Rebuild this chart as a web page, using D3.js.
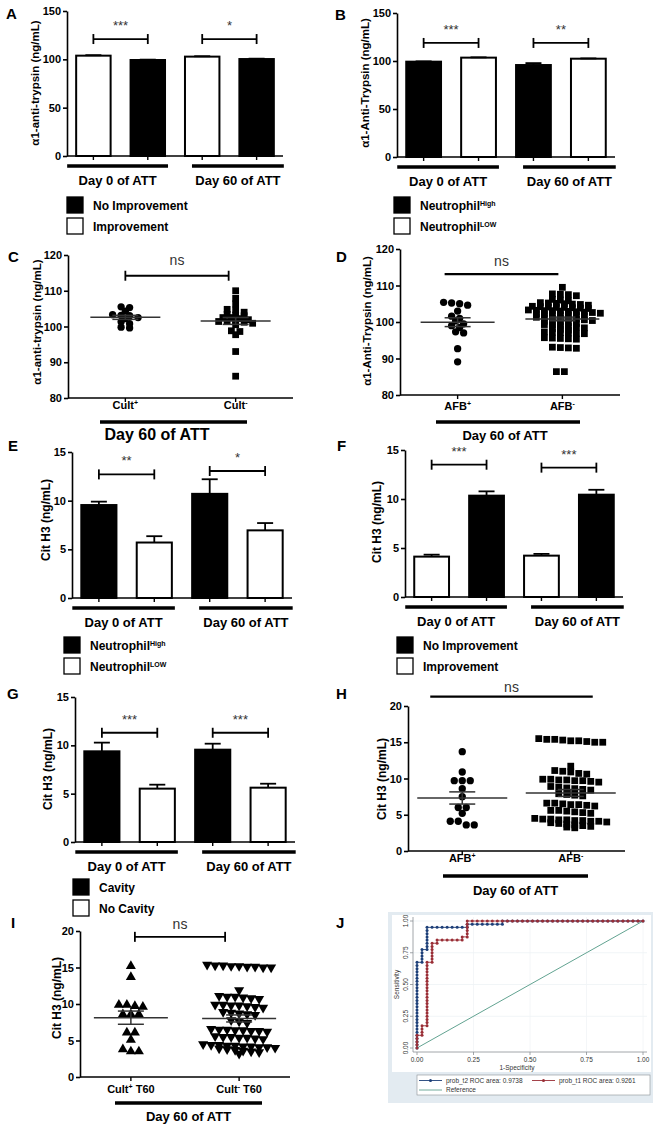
<!DOCTYPE html>
<html><head><meta charset="utf-8">
<script src="https://cdn.jsdelivr.net/npm/d3@7"></script>
<style>body{margin:0;background:#fff}svg{display:block}</style>
</head><body><script>
// ================= DATA =================
const attGroups = ["Day 0 of ATT", "Day 60 of ATT"];
const barTicks = [0, 50, 100, 150];
const citTicks = [0, 5, 10, 15];
const a1Ticks = [80, 90, 100, 110, 120];
const cit20Ticks = [0, 5, 10, 15, 20];

// Panel A
const aSeries = ["Improvement", "No Improvement", "Improvement", "No Improvement"];
const aValues = [103.8, 99.3, 102.8, 100.3];
const aErrors = [0.5, 0.4, 0.4, 0.4];
const aSig = ["***", "*"];
const aSigY = [121, 121];
const aLegend = ["No Improvement", "Improvement"];

// Panel B
const bSeries = ["Neutrophil^High", "Neutrophil^LOW", "Neutrophil^High", "Neutrophil^LOW"];
const bValues = [99.3, 103.5, 95.8, 102.4];
const bErrors = [0.3, 0.3, 2.0, 0.3];
const bSig = ["***", "**"];
const bSigY = [118.8, 118.8];
const bLegend = ["Neutrophil^High", "Neutrophil^LOW"];

// Panel E
const eSeries = ["Neutrophil^High", "Neutrophil^LOW", "Neutrophil^High", "Neutrophil^LOW"];
const eValues = [9.55, 5.7, 10.7, 6.95];
const eErrors = [0.35, 0.65, 1.5, 0.75];
const eSig = ["**", "*"];
const eSigY = [12.7, 13.05];
const eLegend = ["Neutrophil^High", "Neutrophil^LOW"];

// Panel F
const fSeries = ["Improvement", "No Improvement", "Improvement", "No Improvement"];
const fValues = [4.12, 10.34, 4.22, 10.44];
const fErrors = [0.2, 0.44, 0.18, 0.5];
const fSig = ["***", "***"];
const fSigY = [13.5, 13.2];
const fLegend = ["No Improvement", "Improvement"];

// Panel G
const gSeries = ["Cavity", "No Cavity", "Cavity", "No Cavity"];
const gValues = [9.38, 5.52, 9.55, 5.62];
const gErrors = [0.9, 0.41, 0.62, 0.41];
const gSig = ["***", "***"];
const gSigY = [11.3, 11.3];
const gLegend = ["Cavity", "No Cavity"];

// Panel C (alpha1-anti-trypsin, Day 60)
const cCats = ["Cult^+", "Cult^-"];
const cCultPos = [105.5,105.3,104.3,103.3,103.1,103.0,102.5,102.2,101.3,100.8,99.8,99.6];
const cCultNeg = [110.0,107.9,106.3,104.8,104.6,104.0,103.4,103.2,103.0,102.5,102.5,102.2,101.9,101.4,101.4,101.4,101.2,100.9,100.5,98.8,98.6,97.7,93.0,86.1];

// Panel D
const dCats = ["AFB^+", "AFB^-"];
const dAfbPos = [105.4,105.2,105.0,104.6,103.0,101.6,101.0,100.3,99.5,99.0,98.5,97.3,97.0,92.7,89.1];
const dAfbNeg = [109.5,107.6,107.2,107.5,107.7,106.2,105.8,106.0,105.0,105.2,104.8,105.1,104.9,104.6,105.3,
  104.2,104.0,103.8,104.1,103.9,104.3,103.7,104.0,103.2,102.9,103.1,103.0,102.8,103.3,102.7,103.1,102.6,
  102.2,101.9,102.1,102.3,101.8,102.0,102.4,101.7,101.2,100.9,101.0,101.3,100.8,101.1,100.6,
  100.2,99.8,100.0,99.6,100.4,99.9,99.2,98.8,99.0,98.6,99.3,98.2,97.8,98.0,98.4,
  97.1,96.9,97.2,96.8,97.0,97.3,95.6,95.4,95.7,95.3,95.5,93.0,92.8,92.9,93.1,86.4,86.4];

// Panel H (Cit H3)
const hCats = ["AFB^+", "AFB^-"];
const hAfbPos = [13.7,10.9,9.7,9.7,9.7,8.6,7.5,6.0,6.0,5.2,4.1,4.1,3.6,3.6];
const hAfbNeg = [15.5,15.4,15.3,15.2,15.1,15.0,15.0,15.4,15.2,11.7,11.0,10.9,10.7,11.1,10.6,
  9.9,9.8,9.7,9.6,9.7,9.9,9.5,9.8,8.9,8.7,8.6,8.8,8.5,8.4,7.9,7.7,7.8,7.6,
  6.6,6.5,6.4,6.3,6.6,6.2,6.4,5.6,5.4,5.5,5.3,5.2,5.6,
  4.5,4.4,4.3,4.2,4.1,4.4,4.0,4.3,4.2,4.1,3.9,3.8,3.6,3.5,3.4,3.7,3.3,3.2];

// Panel I
const iCats = ["Cult^+^ T60", "Cult^-^ T60"];
const iCultPos = [15.2,13.7,9.9,9.9,9.7,9.6,8.6,8.6,8.6,6.1,6.1,5.1,3.8,3.5,3.5];
const iCultNeg = [15.4,15.3,15.2,15.1,15.0,15.3,15.2,15.0,15.1,11.9,11.1,11.0,10.9,10.8,11.0,10.7,
  9.9,9.8,9.6,9.7,9.9,9.5,9.8,8.9,8.8,8.6,8.7,8.5,7.6,7.4,7.8,
  6.5,6.4,6.3,6.6,6.2,6.4,6.5,6.3,5.5,5.4,5.6,5.3,5.5,5.2,5.4,
  4.4,4.3,4.2,4.1,4.4,4.0,4.3,4.2,4.1,4.5,3.9,3.7,3.6,3.5,3.8,3.4,3.2];

// Panel J (ROC points as [false-positive count, true-positive count])
const jNegTotal = 45, jPosTotal = 40;
const jTicks = [0, 0.25, 0.5, 0.75, 1];
const rocT2 = [[0,0],[0,1],[0,2],[0,3],[0,4],[0,5],[0,6],[0,7],[0,8],[0,9],[0,10],[0,11],[0,12],[0,13],[0,14],
  [0,15],[0,16],[0,17],[0,18],[0,19],[0,20],[0,21],[0,22],[0,23],[0,24],[0,25],[0,26],[0,27],
  [1,27],[1,28],[1,29],[1,30],[1,31],[2,31],[2,32],[2,33],[2,34],[2,35],[2,36],[2,37],[2,38],
  [3,38],[4,38],[5,38],[6,38],[7,38],[8,38],[9,38],[10,38],[10,39],[11,39],[12,39],[13,39],[14,39],
  [15,39],[16,39],[17,39],[17,40],[18,40],[19,40],[20,40],[21,40],[22,40],[23,40],[24,40],[25,40],
  [26,40],[27,40],[28,40],[29,40],[30,40],[31,40],[32,40],[33,40],[34,40],[35,40],[36,40],[37,40],
  [38,40],[39,40],[40,40],[41,40],[42,40],[43,40],[44,40],[45,40]];
const rocT1 = [[0,0],[0,1],[0,2],[0,3],[0,4],[1,4],[1,5],[1,6],[1,7],[2,7],[2,8],[2,9],[2,10],[2,11],
  [2,12],[2,13],[2,14],[2,15],[2,16],[2,17],[2,18],[2,19],[2,20],[2,21],[2,22],[2,23],[2,24],[2,25],
  [2,26],[2,27],[3,27],[3,28],[3,29],[3,30],[3,31],[3,32],[3,33],[4,33],[4,34],[5,34],[6,34],[7,34],
  [8,34],[9,34],[9,35],[10,35],[10,36],[10,37],[10,38],[10,39],[10,40],[11,40],[12,40],[13,40],
  [14,40],[15,40],[16,40],[17,40],[18,40],[19,40],[20,40],[21,40],[22,40],[23,40],[24,40],[25,40],
  [26,40],[27,40],[28,40],[29,40],[30,40],[31,40],[32,40],[33,40],[34,40],[35,40],[36,40],[37,40],
  [38,40],[39,40],[40,40],[41,40],[42,40],[43,40],[44,40],[45,40]];
const jLegend = ["prob_t2 ROC area: 0.9738", "prob_t1 ROC area: 0.9261", "Reference"];

// ================= DRAWING =================
const FONT = '"Liberation Sans", Arial, Helvetica, sans-serif';
const svg = d3.select("body").append("svg").attr("width", 659).attr("height", 1127)
  .style("font-family", FONT);

const fillOf = {"No Improvement":"#000","Improvement":"#fff","Neutrophil^High":"#000",
  "Neutrophil^LOW":"#fff","Cavity":"#000","No Cavity":"#fff"};

function rich(sel, str, supSize) {
  const p = str.split("^");
  sel.append("tspan").text(p[0]);
  if (p.length > 1) sel.append("tspan").attr("font-size", supSize).attr("dy", -4).text(p[1]);
  if (p.length > 2) sel.append("tspan").attr("dy", 4).text(p[2]);
}

function letter(t, x, y) {
  svg.append("text").attr("x", x).attr("y", y).attr("font-size", 15).attr("font-weight", "bold").text(t);
}

function yTitle(text, x, y, size) {
  svg.append("text").attr("transform", `translate(${x},${y}) rotate(-90)`)
    .attr("text-anchor", "middle").attr("dominant-baseline", "central")
    .attr("font-size", size).attr("font-weight", "bold").text(text);
}

function yAxis(y, x, ticks) {
  const g = svg.append("g").attr("transform", `translate(${x},0)`)
    .call(d3.axisLeft(y).tickValues(ticks).tickSize(4).tickSizeOuter(0).tickPadding(2).tickFormat(d3.format("d")));
  g.attr("font-family", FONT).attr("font-size", 11).attr("font-weight", "bold");
  g.selectAll("path,line").attr("stroke", "#000").attr("stroke-width", 1.6);
  g.selectAll("text").attr("fill", "#000");
}

function xAxisLine(left, right, yb, xs) {
  svg.append("line").attr("x1", left).attr("x2", right).attr("y1", yb).attr("y2", yb)
    .attr("stroke", "#000").attr("stroke-width", 1.6);
  svg.selectAll(null).data(xs).enter().append("line")
    .attr("x1", d => d).attr("x2", d => d).attr("y1", yb).attr("y2", yb + 4)
    .attr("stroke", "#000").attr("stroke-width", 1.4);
}

function bracket(x1, x2, yy, caps, label, labelDy, size, weight) {
  svg.append("line").attr("x1", x1).attr("x2", x2).attr("y1", yy).attr("y2", yy)
    .attr("stroke", "#000").attr("stroke-width", caps ? 1.8 : 2.2);
  if (caps) [x1, x2].forEach(xx => svg.append("line").attr("x1", xx).attr("x2", xx)
    .attr("y1", yy - 5).attr("y2", yy + 5).attr("stroke", "#000").attr("stroke-width", 1.8));
  svg.append("text").attr("x", (x1 + x2) / 2).attr("y", yy - labelDy).attr("text-anchor", "middle")
    .attr("font-size", size).attr("font-weight", weight || "normal").attr("fill", "#333").text(label);
}

function underline(x1, x2, yy, label, labelY, size, labelX) {
  svg.append("line").attr("x1", x1).attr("x2", x2).attr("y1", yy).attr("y2", yy)
    .attr("stroke", "#000").attr("stroke-width", 3.5);
  svg.append("text").attr("x", labelX != null ? labelX : (x1 + x2) / 2).attr("y", labelY)
    .attr("text-anchor", "middle").attr("font-size", size).attr("font-weight", "bold").text(label);
}

function barPanel(c) {
  const y = d3.scaleLinear().domain([0, c.max]).range([c.bottom, c.top]);
  const x = d3.scaleBand().domain(d3.range(c.values.length)).range([c.left, c.right])
    .paddingInner(0.33).paddingOuter(0.15);
  const bw = x.bandwidth();
  yAxis(y, c.left, c.ticks);
  svg.selectAll(null).data(c.values).enter().append("rect")
    .attr("x", (d, i) => x(i) + 1).attr("y", d => y(d)).attr("width", bw - 2)
    .attr("height", d => y(0) - y(d))
    .attr("fill", (d, i) => fillOf[c.series[i]]).attr("stroke", "#000").attr("stroke-width", 2);
  c.values.forEach((v, i) => {
    const cx = x(i) + bw / 2, yt = y(v + c.errors[i]);
    svg.append("line").attr("x1", cx).attr("x2", cx).attr("y1", y(v)).attr("y2", yt)
      .attr("stroke", "#000").attr("stroke-width", 1.8);
    svg.append("line").attr("x1", cx - 8).attr("x2", cx + 8).attr("y1", yt).attr("y2", yt)
      .attr("stroke", "#000").attr("stroke-width", 1.8);
  });
  xAxisLine(c.left, c.right, y(0), c.values.map((d, i) => x(i) + bw / 2));
  c.sig.forEach((s, k) => {
    bracket(x(2 * k) + bw / 2, x(2 * k + 1) + bw / 2, y(c.sigY[k]), true, s, 9, 13);
  });
  attGroups.forEach((g, k) => {
    const x1 = x(2 * k) + (k === 0 ? -8 : 8), x2 = x(2 * k + 1) + bw + (k === 0 ? 2 : 9);
    underline(x1, x2, y(0) + 10, g, y(0) + 29, 13);
  });
  c.legend.forEach((l, i) => {
    const ly = y(0) + c.legDy + i * 21;
    svg.append("rect").attr("x", c.legX).attr("y", ly).attr("width", 16).attr("height", 16)
      .attr("fill", fillOf[l]).attr("stroke", "#000").attr("stroke-width", 1.3);
    const t = svg.append("text").attr("x", c.legX + 26).attr("y", ly + 12.5)
      .attr("font-size", 12).attr("font-weight", "bold");
    rich(t, l, 7);
  });
  yTitle(c.title, c.tx, c.ty, c.titleSize);
  letter(c.letter, c.lx, c.ly);
}

// GraphPad-like row layout: sorted values within `thr` of a row's first value share that row
function rowLayout(vals, y, thr, spacing, stagger) {
  const pts = vals.map(v => ({ v, y: y(v) })).sort((a, b) => b.v - a.v);
  const rows = [];
  pts.forEach(p => {
    const r = rows[rows.length - 1];
    if (r && r[0].v - p.v <= thr) r.push(p); else rows.push([p]);
  });
  rows.forEach((arr, ri) => {
    const n = arr.length;
    const sh = stagger && n > 1 ? (ri % 2 ? 1 : -1) * spacing * 0.25 : 0;
    arr.forEach((p, j) => { p.dx = (j - (n - 1) / 2) * spacing + sh; });
  });
  return pts;
}

function scatterPanel(c) {
  const y = d3.scaleLinear().domain(c.domain).range([c.bottom, c.top]);
  const x = d3.scalePoint().domain(c.cats).range([c.left, c.right]).padding(c.pad);
  yAxis(y, c.left, c.ticks);
  xAxisLine(c.left, c.right, c.bottom, c.cats.map(k => x(k)));
  c.groups.forEach((vals, gi) => {
    const cx = x(c.cats[gi]);
    const pts = rowLayout(vals, y, c.thr, c.sep, c.stagger);
    const shape = c.shapes[gi];
    const sym = d3.symbol().type(shape === "circle" ? d3.symbolCircle : shape === "square" ? d3.symbolSquare : d3.symbolTriangle)
      .size(shape === "circle" ? 42 : shape === "square" ? 46 : 44);
    svg.selectAll(null).data(pts).enter().append("path").attr("d", sym)
      .attr("transform", p => `translate(${cx + p.dx},${p.y})` + (shape === "tridown" ? " rotate(180)" : ""))
      .attr("fill", "#000");
    const m = d3.mean(vals), sem = d3.deviation(vals) / Math.sqrt(vals.length);
    svg.append("line").attr("x1", cx - c.meanHalf).attr("x2", cx + c.meanHalf).attr("y1", y(m)).attr("y2", y(m))
      .attr("stroke", "#333").attr("stroke-width", 1.5);
    svg.append("line").attr("x1", cx).attr("x2", cx).attr("y1", y(m - sem)).attr("y2", y(m + sem))
      .attr("stroke", "#333").attr("stroke-width", 1.5);
    [m - sem, m + sem].forEach(v => svg.append("line").attr("x1", cx - 13).attr("x2", cx + 13)
      .attr("y1", y(v)).attr("y2", y(v)).attr("stroke", "#333").attr("stroke-width", 1.5));
  });
  c.cats.forEach(k => {
    const t = svg.append("text").attr("x", x(k)).attr("y", c.catY).attr("text-anchor", "middle")
      .attr("font-size", 11).attr("font-weight", "bold");
    rich(t, k, 7);
  });
  bracket(x(c.cats[0]) + c.brOff[0], x(c.cats[1]) + c.brOff[1], y(c.brY), c.caps, "ns", c.nsDy, 14);
  underline(c.ul[0], c.ul[1], c.ulY, "Day 60 of ATT", c.ulLabelY, c.ulSize, c.ulLabelX);
  yTitle(c.title, c.tx, c.ty, c.titleSize);
  letter(c.letter, c.lx, c.ly);
}

// ---- Bar panels ----
barPanel({letter:"A", lx:6, ly:19, left:67, right:283, top:11, bottom:156, max:150, ticks:barTicks,
  values:aValues, errors:aErrors, series:aSeries, sig:aSig, sigY:aSigY, legend:aLegend, legX:67, legDy:41,
  title:"α1-anti-trypsin (ng/mL)", tx:35, ty:83, titleSize:11.5});
barPanel({letter:"B", lx:335, ly:20, left:397, right:615, top:13, bottom:157, max:150, ticks:barTicks,
  values:bValues, errors:bErrors, series:bSeries, sig:bSig, sigY:bSigY, legend:bLegend, legX:394, legDy:40,
  title:"α1-Anti-Trypsin (ng/mL)", tx:365, ty:83, titleSize:11.5});
barPanel({letter:"E", lx:8, ly:451, left:72, right:292, top:452, bottom:598, max:15, ticks:citTicks,
  values:eValues, errors:eErrors, series:eSeries, sig:eSig, sigY:eSigY, legend:eLegend, legX:64, legDy:39,
  title:"Cit H3 (ng/mL)", tx:46, ty:520, titleSize:12});
barPanel({letter:"F", lx:337, ly:451, left:405, right:623, top:450, bottom:597, max:15, ticks:citTicks,
  values:fValues, errors:fErrors, series:fSeries, sig:fSig, sigY:fSigY, legend:fLegend, legX:397, legDy:40,
  title:"Cit H3 (ng/mL)", tx:377, ty:522, titleSize:12});
barPanel({letter:"G", lx:7, ly:699, left:75, right:295, top:697, bottom:842, max:15, ticks:citTicks,
  values:gValues, errors:gErrors, series:gSeries, sig:gSig, sigY:gSigY, legend:gLegend, legX:73, legDy:37,
  title:"Cit H3 (ng/mL)", tx:48, ty:769, titleSize:12});

// ---- Scatter panels ----
scatterPanel({letter:"C", lx:8, ly:262, left:68, right:293, top:255, bottom:398, domain:[80,120], ticks:a1Ticks,
  cats:cCats, pad:0.52, groups:[cCultPos, cCultNeg], shapes:["circle","square"], thr:0.9, sep:8.5, stagger:false, meanHalf:35,
  catY:409, brOff:[0,-7], brY:114.2, caps:true, nsDy:11, ul:[100,247], ulY:422, ulLabelY:440, ulSize:16, ulLabelX:157,
  title:"α1-anti-trypsin (ng/mL)", tx:37, ty:322, titleSize:11.5});
scatterPanel({letter:"D", lx:336, ly:262, left:400, right:620, top:249, bottom:395, domain:[80,120], ticks:a1Ticks,
  cats:dCats, pad:0.55, groups:[dAfbPos, dAfbNeg], shapes:["circle","square"], thr:0.9, sep:8, stagger:true, meanHalf:37,
  catY:410, brOff:[-13,-4], brY:113.1, caps:false, nsDy:8, ul:[436,580], ulY:422, ulLabelY:440, ulSize:13, ulLabelX:505,
  title:"α1-Anti-Trypsin (ng/mL)", tx:367, ty:321, titleSize:11.5});
scatterPanel({letter:"H", lx:336, ly:699, left:408, right:625, top:706, bottom:851, domain:[0,20], ticks:cit20Ticks,
  cats:hCats, pad:0.5, groups:[hAfbPos, hAfbNeg], shapes:["circle","square"], thr:0.55, sep:8, stagger:false, meanHalf:45,
  catY:862, brOff:[-32,22], brY:21.3, caps:false, nsDy:5, ul:[443,588], ulY:876, ulLabelY:895, ulSize:13,
  title:"Cit H3 (ng/mL)", tx:382, ty:779, titleSize:12});
scatterPanel({letter:"I", lx:11, ly:928, left:80, right:290, top:931, bottom:1077, domain:[0,20], ticks:cit20Ticks,
  cats:iCats, pad:0.47, groups:[iCultPos, iCultNeg], shapes:["triup","tridown"], thr:0.55, sep:8, stagger:false, meanHalf:37,
  catY:1093, brOff:[4,-14], brY:19.2, caps:true, nsDy:8, ul:[115,262], ulY:1103, ulLabelY:1121, ulSize:13,
  title:"Cit H3 (ng/mL)", tx:57, ty:998, titleSize:12});

// ---- Panel J (ROC) ----
(function () {
  letter("J", 336, 928);
  const jx = d3.scaleLinear().domain([0, 1]).range([417, 643]);
  const jy = d3.scaleLinear().domain([0, 1]).range([1048, 921]);
  svg.append("rect").attr("x", 388).attr("y", 912).attr("width", 265).attr("height", 191).attr("fill", "#e3ebf1");
  svg.append("rect").attr("x", 392).attr("y", 915).attr("width", 259).attr("height", 157).attr("fill", "#fff");
  jTicks.slice(1).forEach(t => {
    svg.append("line").attr("x1", jx(0) - 4).attr("x2", jx(1) + 4).attr("y1", jy(t)).attr("y2", jy(t))
      .attr("stroke", "#eef2f5").attr("stroke-width", 0.8);
    svg.append("line").attr("x1", jx(t)).attr("x2", jx(t)).attr("y1", jy(1) - 4).attr("y2", jy(0) + 4)
      .attr("stroke", "#f1f4f6").attr("stroke-width", 0.8);
  });
  const axc = "#8a8f94";
  svg.append("line").attr("x1", 413).attr("x2", 413).attr("y1", jy(1) - 4).attr("y2", 1052).attr("stroke", axc).attr("stroke-width", 0.8);
  svg.append("line").attr("x1", 413).attr("x2", jx(1) + 4).attr("y1", 1052).attr("y2", 1052).attr("stroke", axc).attr("stroke-width", 0.8);
  jTicks.forEach(t => {
    svg.append("line").attr("x1", 410).attr("x2", 413).attr("y1", jy(t)).attr("y2", jy(t)).attr("stroke", axc).attr("stroke-width", 0.8);
    svg.append("line").attr("x1", jx(t)).attr("x2", jx(t)).attr("y1", 1052).attr("y2", 1055).attr("stroke", axc).attr("stroke-width", 0.8);
    svg.append("text").attr("transform", `translate(408,${jy(t)}) rotate(-90)`).attr("text-anchor", "middle")
      .attr("font-size", 6.5).attr("fill", "#333").text(d3.format(".2f")(t));
    svg.append("text").attr("x", jx(t)).attr("y", 1062).attr("text-anchor", "middle")
      .attr("font-size", 6.5).attr("fill", "#333").text(d3.format(".2f")(t));
  });
  svg.append("text").attr("x", jx(0.5) - 13).attr("y", 1070).attr("text-anchor", "middle")
    .attr("font-size", 6.5).attr("fill", "#333").text("1-Specificity");
  svg.append("text").attr("transform", `translate(399,${jy(0.5)}) rotate(-90)`).attr("text-anchor", "middle")
    .attr("font-size", 6.5).attr("fill", "#333").text("Sensitivity");
  const refColor = "#62a391";
  svg.append("line").attr("x1", jx(0)).attr("y1", jy(0)).attr("x2", jx(1)).attr("y2", jy(1))
    .attr("stroke", refColor).attr("stroke-width", 1);
  const curves = [{ d: rocT2, color: "#1d3f78" }, { d: rocT1, color: "#9a2e36" }];
  curves.forEach(cv => {
    const pts = cv.d.map(p => [jx(p[0] / jNegTotal), jy(p[1] / jPosTotal)]);
    svg.append("path").attr("d", d3.line()(pts)).attr("fill", "none").attr("stroke", cv.color).attr("stroke-width", 0.9);
    svg.selectAll(null).data(pts).enter().append("circle").attr("cx", p => p[0]).attr("cy", p => p[1])
      .attr("r", 1.5).attr("fill", cv.color);
  });
  svg.append("rect").attr("x", 417).attr("y", 1075).attr("width", 233).attr("height", 20)
    .attr("fill", "#fff").attr("stroke", "#8a8f94").attr("stroke-width", 0.6);
  const items = [{ x: 419, y: 1080.5, color: "#1d3f78", dot: true, label: jLegend[0] },
                 { x: 532, y: 1080.5, color: "#9a2e36", dot: true, label: jLegend[1] },
                 { x: 419, y: 1090, color: refColor, dot: false, label: jLegend[2] }];
  items.forEach(it => {
    svg.append("line").attr("x1", it.x).attr("x2", it.x + 23).attr("y1", it.y).attr("y2", it.y)
      .attr("stroke", it.color).attr("stroke-width", 0.9);
    if (it.dot) svg.append("circle").attr("cx", it.x + 11.5).attr("cy", it.y).attr("r", 1.5).attr("fill", it.color);
    svg.append("text").attr("x", it.x + 27).attr("y", it.y + 2.3).attr("font-size", 6.5).attr("fill", "#333").text(it.label);
  });
})();
</script></body></html>
